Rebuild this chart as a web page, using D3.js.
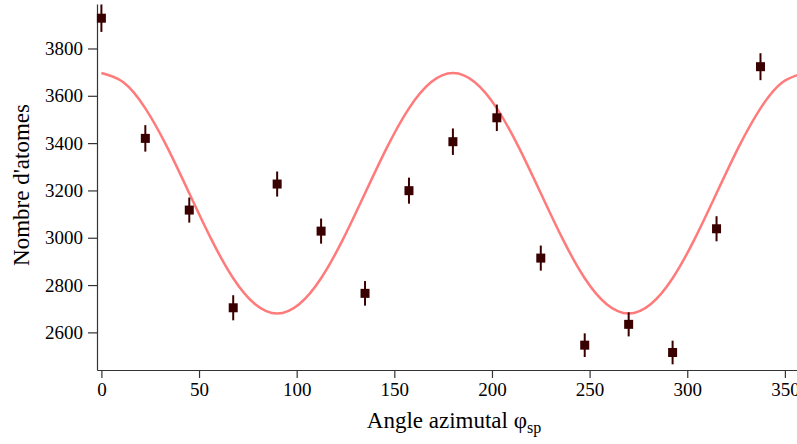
<!DOCTYPE html>
<html>
<head>
<meta charset="utf-8">
<script src="https://cdn.jsdelivr.net/npm/d3@7"></script>
<style>
  html, body { margin: 0; padding: 0; background: #fff; }
  svg { display: block; }
  svg text { font-family: "Liberation Serif" !important; }
  .tick text { font-size: 19px !important; }
</style>
</head>
<body>
<svg id="chart" width="797" height="444"></svg>
<script>
// Measured points (angle in degrees, number of atoms, error)
const angles = [0, 22.5, 45, 67.5, 90, 112.5, 135, 157.5, 180, 202.5, 225, 247.5, 270, 292.5, 315, 337.5];
const counts = [3928, 3420, 3117, 2704, 3227, 3028, 2765, 3199, 3406, 3507, 2914, 2546, 2634, 2515, 3038, 3723];
const errors = [58, 56, 53, 53, 53, 53, 52, 55, 56, 56, 53, 50, 51, 50, 53, 57];

// Fitted curve
const fitAngles = [0, 11.25, 22.5, 33.75, 45, 56.25, 67.5, 78.75, 90, 101.25, 112.5, 123.75, 135, 146.25, 157.5, 168.75,
                   180, 191.25, 202.5, 213.75, 225, 236.25, 247.5, 258.75, 270, 281.25, 292.5, 303.75, 315, 326.25, 337.5, 348.75, 360];
const fitValues = [3696, 3657, 3547, 3382, 3188, 2994, 2829, 2719, 2680, 2719, 2829, 2994, 3188, 3382, 3547, 3657,
                   3696, 3657, 3547, 3382, 3188, 2994, 2829, 2719, 2680, 2719, 2829, 2994, 3188, 3382, 3547, 3657, 3696];

const xTicks = [0, 50, 100, 150, 200, 250, 300, 350];
const yTicks = [2600, 2800, 3000, 3200, 3400, 3600, 3800];

const svg = d3.select("#chart");
const mLeft = 97, mRight = 797, mTop = 4, mBottom = 370;

const x = d3.scaleLinear().domain([-2.25, 356.2]).range([mLeft, mRight]);
const y = d3.scaleLinear().domain([2441, 3988]).range([mBottom, mTop]);

svg.append("defs").append("clipPath").attr("id", "plotclip")
  .append("rect").attr("x", mLeft).attr("y", 0).attr("width", mRight - mLeft).attr("height", mBottom);

// Axes
const xAxis = svg.append("g").attr("transform", `translate(0,${mBottom})`)
  .call(d3.axisBottom(x).tickValues(xTicks).tickFormat(d3.format("d")).tickSize(8).tickSizeOuter(0).tickPadding(5));
const yAxis = svg.append("g").attr("transform", `translate(${mLeft},0)`)
  .call(d3.axisLeft(y).tickValues(yTicks).tickFormat(d3.format("d")).tickSize(9).tickSizeOuter(0).tickPadding(5));

[xAxis, yAxis].forEach(a => {
  a.attr("font-family", "Liberation Serif").attr("font-size", 19);
  a.select(".domain").attr("stroke", "#333").attr("stroke-width", 1.2);
  a.selectAll(".tick line").attr("stroke", "#333").attr("stroke-width", 1.2);
  a.selectAll(".tick text").attr("fill", "#000");
});

// Fit curve
const line = d3.line().x((d, i) => x(fitAngles[i])).y(d => y(d)).curve(d3.curveNatural);
svg.append("path").datum(fitValues)
  .attr("clip-path", "url(#plotclip)")
  .attr("d", line)
  .attr("fill", "none")
  .attr("stroke", "#ff7b7b")
  .attr("stroke-width", 2.5);

// Error bars and markers
const pts = angles.map((a, i) => ({a, v: counts[i], e: errors[i]}));
const g = svg.append("g");
g.selectAll("line.err").data(pts).join("line")
  .attr("x1", d => x(d.a)).attr("x2", d => x(d.a))
  .attr("y1", d => y(d.v - d.e)).attr("y2", d => y(d.v + d.e))
  .attr("stroke", "#3a0000").attr("stroke-width", 2);
g.selectAll("rect.pt").data(pts).join("rect")
  .attr("x", d => x(d.a) - 4.5).attr("y", d => y(d.v) - 4.5)
  .attr("width", 9).attr("height", 9)
  .attr("fill", "#3a0000");

// Axis titles
const xt = svg.append("text").attr("x", 454).attr("y", 428)
  .attr("text-anchor", "middle").attr("font-family", "Liberation Serif").attr("font-size", 23).attr("fill", "#000");
xt.append("tspan").text("Angle azimutal φ");
xt.append("tspan").attr("font-size", 16).attr("dy", 5).text("sp");

svg.append("text")
  .attr("transform", `translate(29,185) rotate(-90)`)
  .attr("text-anchor", "middle").attr("font-family", "Liberation Serif").attr("font-size", 23).attr("fill", "#000")
  .text("Nombre d'atomes");
</script>
</body>
</html>
